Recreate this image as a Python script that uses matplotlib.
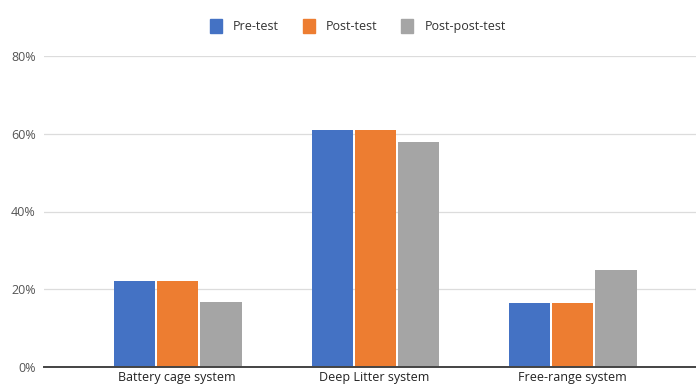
import matplotlib.pyplot as plt
import numpy as np
from matplotlib.ticker import PercentFormatter
from matplotlib.patches import Patch

plt.rcParams['font.family'] = ['Open Sans', 'DejaVu Sans']

categories = ["Battery cage system", "Deep Litter system", "Free-range system"]
series_names = ["Pre-test", "Post-test", "Post-post-test"]
pre_test = [0.22, 0.61, 0.165]
post_test = [0.22, 0.61, 0.165]
post_post_test = [0.167, 0.58, 0.25]
colors = ["#4472C4", "#ED7D31", "#A5A5A5"]
y_ticks = [0, 0.2, 0.4, 0.6, 0.8]

fig = plt.figure(figsize=(6.96, 3.88), dpi=100)
ax = fig.add_axes([44 / 696, 1 - 367 / 388, 1 - 44 / 696, (367 - 56) / 388])

x = np.arange(len(categories))
width = 0.208
offset = 0.218
for i, (vals, col) in enumerate(zip([pre_test, post_test, post_post_test], colors)):
    ax.bar(x + (i - 1) * offset + 0.005, vals, width=width, color=col, zorder=3)

ax.set_xlim(-0.673, 2.628)
ax.set_ylim(0, 0.8)
ax.set_yticks(y_ticks)
ax.yaxis.set_major_formatter(PercentFormatter(1.0, decimals=0))
ax.set_xticks(x)
ax.set_xticklabels(categories)
ax.tick_params(axis='both', length=0)
ax.tick_params(axis='y', colors='#555555', pad=6, labelsize=9)
ax.tick_params(axis='x', colors='#222222', pad=3, labelsize=9)

ax.grid(axis='y', color='#dcdcdc', linewidth=0.9, zorder=0)
for s in ['top', 'right', 'left']:
    ax.spines[s].set_visible(False)
ax.spines['bottom'].set_color('#444444')
ax.spines['bottom'].set_linewidth(1.4)
ax.spines['bottom'].set_zorder(4)

handles = [Patch(facecolor=c, edgecolor=c) for c in colors]
fig.legend(handles, series_names, loc='center', bbox_to_anchor=(358 / 696, 1 - 26 / 388),
           ncol=3, frameon=False, fontsize=9, handlelength=0.95, handleheight=1.3,
           handletextpad=0.9, columnspacing=1.9, labelcolor='#333333')

fig.savefig("out.png", dpi=100)
